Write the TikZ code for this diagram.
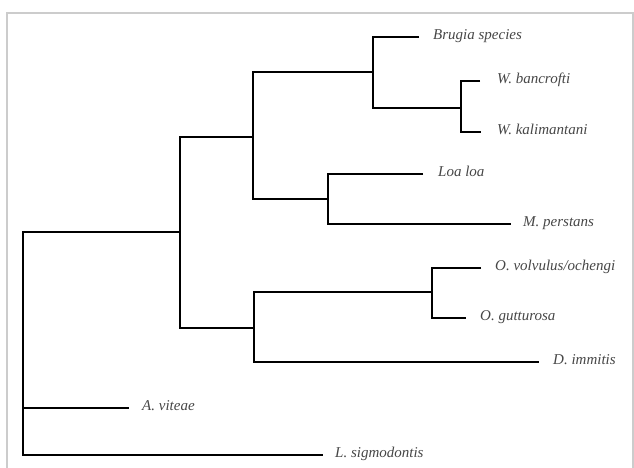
\documentclass[tikz,border=0pt]{standalone}
\usepackage{fontspec}
\setmainfont{Liberation Serif}
\begin{document}
\begin{tikzpicture}[x=1pt,y=-1pt,
  branch/.style={line width=2.9pt,line join=miter,black},
  taxon/.style={anchor=mid west,inner sep=0pt,font=\fontsize{15}{17}\selectfont\itshape,text=black!72},
  frame/.style={draw=black!20,line width=1.4pt}]
\useasboundingbox (0,0) rectangle (634,468);
\fill[white] (0,0) rectangle (634,468);
\draw[frame] (7,470) -- (7,13) -- (633,13) -- (633,470);
% internal nodes
\coordinate (R)  at (23,408);
\coordinate (N1) at (180,232);
\coordinate (N2) at (253,137);
\coordinate (N3) at (373,72);
\coordinate (N4) at (461,108);
\coordinate (N5) at (328,199);
\coordinate (N6) at (254,328);
\coordinate (N7) at (432,292);
% leaf ends
\coordinate (Lbr) at (419,37);
\coordinate (Lwb) at (480,81);
\coordinate (Lwk) at (481,132);
\coordinate (Lll) at (423,174);
\coordinate (Lmp) at (511,224);
\coordinate (Lov) at (481,268);
\coordinate (Log) at (466,318);
\coordinate (Ldi) at (539,362);
\coordinate (Lav) at (129,408);
\coordinate (Lls) at (323,455);
% labels
\node[taxon] (tbr) at (433,37) {Brugia species};
\node[taxon] (twb) at (497,81) {W. bancrofti};
\node[taxon] (twk) at (497,132) {W. kalimantani};
\node[taxon] (tll) at (438,174) {Loa loa};
\node[taxon] (tmp) at (523,224) {M. perstans};
\node[taxon] (tov) at (495,268) {O. volvulus/ochengi};
\node[taxon] (tog) at (480,318) {O. gutturosa};
\node[taxon] (tdi) at (553,362) {D. immitis};
\node[taxon] (tav) at (142,408) {A. viteae};
\node[taxon] (tls) at (335,455) {L. sigmodontis};
% branches
\draw[branch] (N1) -| (R) |- (Lls);
\draw[branch] (R) -- (Lav);
\draw[branch] (N2) -| (N1) |- (N6);
\draw[branch] (N3) -| (N2) |- (N5);
\draw[branch] (Lbr) -| (N3) |- (N4);
\draw[branch] (Lwb) -| (N4) |- (Lwk);
\draw[branch] (Lll) -| (N5) |- (Lmp);
\draw[branch] (N7) -| (N6) |- (Ldi);
\draw[branch] (Lov) -| (N7) |- (Log);
\end{tikzpicture}
\end{document}
